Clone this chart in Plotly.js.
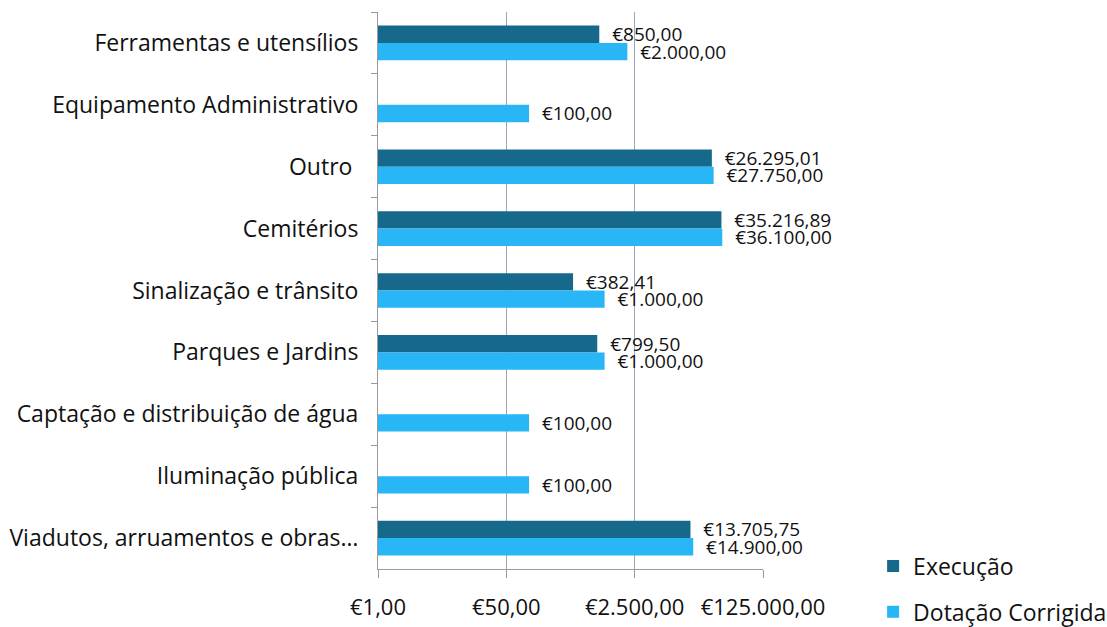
<!DOCTYPE html>
<html><head><meta charset="utf-8">
<script src="https://cdn.plot.ly/plotly-3.0.1.min.js"></script>
<style>html,body{margin:0;padding:0;background:#fff}</style>
</head><body>
<div id="chart" style="width:1107px;height:627px"></div>
<script>
const categories = [
  "Ferramentas e utensílios",
  "Equipamento Administrativo",
  "Outro ",
  "Cemitérios",
  "Sinalização e trânsito",
  "Parques e Jardins",
  "Captação e distribuição de água",
  "Iluminação pública",
  "Viadutos, arruamentos e obras…"
];
const execucao = [850, null, 26295.01, 35216.89, 382.41, 799.50, null, null, 13705.75];
const dotacao = [2000, 100, 27750, 36100, 1000, 1000, 100, 100, 14900];
const tickValues = [1, 50, 2500, 125000];
const tickLabels = ["€1,00", "€50,00", "€2.500,00", "€125.000,00"];

const font = "Open Sans, Liberation Sans, sans-serif";
const lbl = '\u00a0\u00a0€%{x:,.2f}';
const traces = [
  {type:'bar', orientation:'h', name:'Execução', y:categories, x:execucao,
   marker:{color:'#17698c'}, texttemplate:lbl, textposition:'outside', constraintext:'none',
   textfont:{size:19, color:'#111', family:font}, cliponaxis:false, legendgroup:'a'},
  {type:'bar', orientation:'h', name:'Dotação Corrigida', y:categories, x:dotacao,
   marker:{color:'#29b6f6'}, texttemplate:lbl, textposition:'outside', constraintext:'none',
   textfont:{size:19, color:'#111', family:font}, cliponaxis:false, legendgroup:'b'}
];
const layout = {
  width:1107, height:627,
  margin:{l:378, r:344, t:12, b:58, autoexpand:false},
  separators:',.',
  barmode:'group', bargap:0.44, bargroupgap:0,
  font:{family:font, color:'#111'},
  showlegend:true,
  legend:{x:1.286, xanchor:'left', y:0.044, yanchor:'top', font:{size:23, family:font},
          tracegroupgap:13, traceorder:'grouped'},
  xaxis:{type:'log', range:[0, Math.log10(125000)], tickvals:tickValues, ticktext:tickLabels,
         showgrid:true, gridcolor:'#9aa8bb', gridwidth:1, showline:true, linecolor:'#9a9a9a',
         ticks:'outside', ticklen:8, tickcolor:'#9a9a9a', tickfont:{size:22, family:font},
         ticklabelstandoff:11, zeroline:false},
  yaxis:{type:'category', autorange:'reversed', showline:true, linecolor:'#9a9a9a',
         ticks:'outside', ticklen:6, tickcolor:'#9a9a9a', tickson:'boundaries',
         tickfont:{size:23, family:font}, ticklabelstandoff:14, showgrid:false},
  plot_bgcolor:'#fff', paper_bgcolor:'#fff'
};
Plotly.newPlot('chart', traces, layout, {displayModeBar:false, staticPlot:true});
</script>
</body></html>
